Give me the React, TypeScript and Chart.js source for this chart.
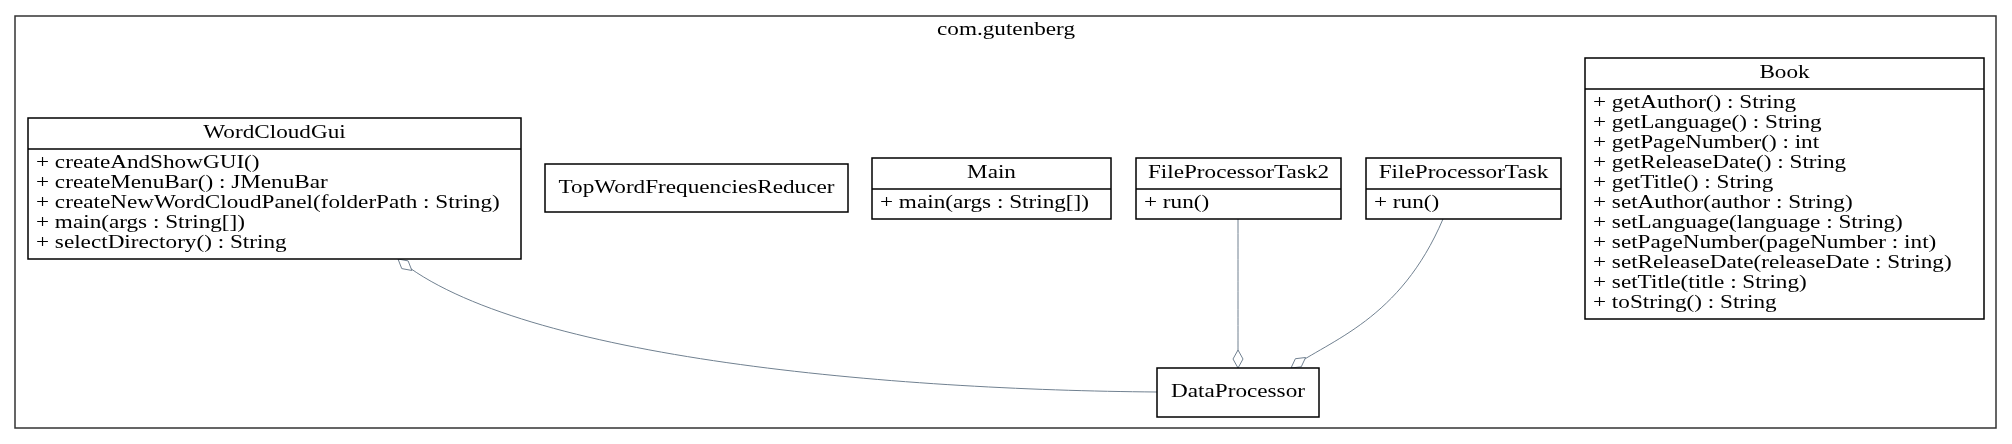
import { useEffect, useRef } from 'react';
import { Chart, registerables } from 'chart.js';

Chart.register(...registerables);

const packageName = 'com.gutenberg';
const classNames = ['WordCloudGui', 'TopWordFrequenciesReducer', 'Main', 'FileProcessorTask2', 'FileProcessorTask', 'Book', 'DataProcessor'];
const classMethods: string[][] = [
  ['+ createAndShowGUI()', '+ createMenuBar() : JMenuBar', '+ createNewWordCloudPanel(folderPath : String)', '+ main(args : String[])', '+ selectDirectory() : String'],
  [],
  ['+ main(args : String[])'],
  ['+ run()'],
  ['+ run()'],
  ['+ getAuthor() : String', '+ getLanguage() : String', '+ getPageNumber() : int', '+ getReleaseDate() : String', '+ getTitle() : String', '+ setAuthor(author : String)', '+ setLanguage(language : String)', '+ setPageNumber(pageNumber : int)', '+ setReleaseDate(releaseDate : String)', '+ setTitle(title : String)', '+ toString() : String'],
  [],
];

// layout in diagram units (x0, y0, x1, y1)
const boxes = [
  [28, 118, 521, 259],
  [545, 164, 848, 212],
  [872, 158, 1111, 219],
  [1136, 158, 1341, 219],
  [1366, 158, 1561, 219],
  [1585, 58, 1984, 319],
  [1157, 368, 1319, 417],
];
// bezier paths; diamond drawn at the 'diamondAtStart' end
const edgePaths = [
  [[398, 259], [520, 360], [900, 390], [1157, 392]],
  [[1238, 219], [1238, 300], [1238, 330], [1238, 368]],
  [[1443, 219], [1400, 320], [1330, 340], [1291, 368]],
];
const diamondAtStart = [true, false, false];

const FONT = '19px "Liberation Serif", "DejaVu Serif", serif';
const STRETCH = 1.22;

function text(ctx: CanvasRenderingContext2D, s: string, x: number, y: number, align: 'left' | 'center') {
  ctx.save();
  ctx.translate(x, y);
  ctx.scale(STRETCH, 1);
  ctx.textAlign = align;
  ctx.textBaseline = 'middle';
  ctx.fillText(s, 0, 0);
  ctx.restore();
}

const umlPlugin = {
  id: 'uml',
  afterDraw(chart: Chart) {
    const ctx = chart.ctx;
    const xs = chart.scales.x;
    const ys = chart.scales.y;
    const X = (v: number) => xs.getPixelForValue(v);
    const Y = (v: number) => ys.getPixelForValue(v);
    ctx.save();
    ctx.strokeStyle = '#333';
    ctx.lineWidth = 1.5;
    ctx.strokeRect(X(15), Y(16), X(1996) - X(15), Y(428) - Y(16));
    ctx.font = FONT;
    ctx.fillStyle = '#000';
    text(ctx, packageName, X(1006), Y(30), 'center');

    ctx.strokeStyle = '#708090';
    ctx.lineWidth = 1;
    edgePaths.forEach((p, i) => {
      ctx.beginPath();
      ctx.moveTo(X(p[0][0]), Y(p[0][1]));
      ctx.bezierCurveTo(X(p[1][0]), Y(p[1][1]), X(p[2][0]), Y(p[2][1]), X(p[3][0]), Y(p[3][1]));
      ctx.stroke();
      const tip = diamondAtStart[i] ? p[0] : p[3];
      const from = diamondAtStart[i] ? p[1] : p[2];
      const tipX = X(tip[0]), tipY = Y(tip[1]);
      const a = Math.atan2(Y(from[1]) - tipY, X(from[0]) - tipX);
      const L = 18, W = 5;
      const cx = tipX + Math.cos(a) * L / 2, cy = tipY + Math.sin(a) * L / 2;
      ctx.fillStyle = '#fff';
      ctx.beginPath();
      ctx.moveTo(tipX, tipY);
      ctx.lineTo(cx - Math.sin(a) * W, cy + Math.cos(a) * W);
      ctx.lineTo(tipX + Math.cos(a) * L, tipY + Math.sin(a) * L);
      ctx.lineTo(cx + Math.sin(a) * W, cy - Math.cos(a) * W);
      ctx.closePath();
      ctx.fill();
      ctx.stroke();
    });

    classNames.forEach((name, i) => {
      const [x0, y0, x1, y1] = boxes[i];
      const methods = classMethods[i];
      ctx.fillStyle = '#fff';
      ctx.fillRect(X(x0), Y(y0), X(x1) - X(x0), Y(y1) - Y(y0));
      ctx.strokeStyle = '#000';
      ctx.lineWidth = 1.5;
      ctx.strokeRect(X(x0), Y(y0), X(x1) - X(x0), Y(y1) - Y(y0));
      ctx.fillStyle = '#000';
      ctx.font = FONT;
      if (methods.length === 0) {
        text(ctx, name, X((x0 + x1) / 2), Y((y0 + y1) / 2), 'center');
        return;
      }
      const div = y0 + 31;
      ctx.beginPath();
      ctx.moveTo(X(x0), Y(div));
      ctx.lineTo(X(x1), Y(div));
      ctx.stroke();
      text(ctx, name, X((x0 + x1) / 2), Y(y0 + 15), 'center');
      methods.forEach((m, k) => text(ctx, m, X(x0 + 8), Y(div + 14 + k * 20), 'left'));
    });
    ctx.restore();
  },
};

export default function App() {
  const canvasRef = useRef<HTMLCanvasElement>(null);
  const chartRef = useRef<Chart | null>(null);

  useEffect(() => {
    document.body.style.margin = '0';
    if (!canvasRef.current) return;
    if (chartRef.current) chartRef.current.destroy();
    chartRef.current = new Chart(canvasRef.current, {
      type: 'scatter',
      data: { datasets: [{ data: [], pointRadius: 0 }] },
      options: {
        animation: false,
        responsive: false,
        layout: { padding: 0 },
        plugins: { legend: { display: false }, tooltip: { enabled: false } },
        scales: {
          x: { type: 'linear', min: 0, max: 2012, display: false },
          y: { type: 'linear', min: 0, max: 444, reverse: true, display: false },
        },
      },
      plugins: [umlPlugin],
    });
    return () => {
      chartRef.current?.destroy();
      chartRef.current = null;
    };
  }, []);

  return (
    <div style={{ background: '#fff', width: 2012, height: 444 }}>
      <canvas ref={canvasRef} width={2012} height={444} style={{ display: 'block' }} />
    </div>
  );
}
